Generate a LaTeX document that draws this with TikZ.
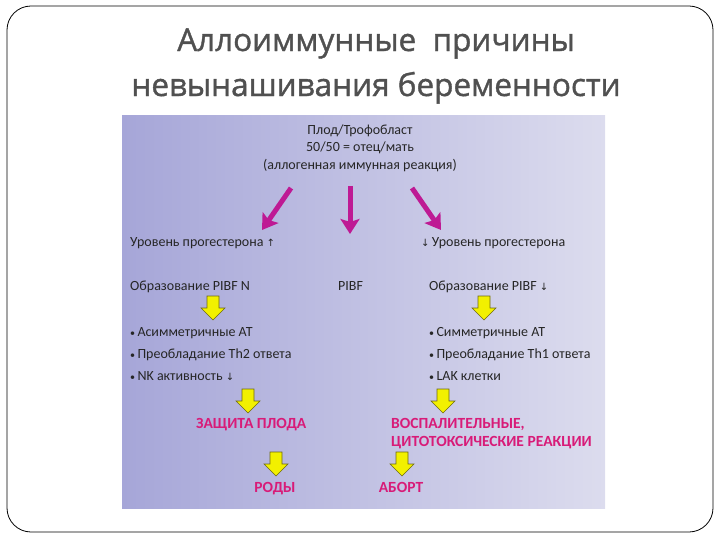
\documentclass[tikz,border=0pt]{standalone}
\usepackage{fontspec}
\setmainfont{Carlito}
\newfontfamily\symf{DejaVu Sans}
\newfontfamily\titlef[FakeBold=1.2]{Open Sans}
\usetikzlibrary{arrows.meta}
\definecolor{titlegray}{HTML}{505050}
\definecolor{mag}{HTML}{BE1A94}
\definecolor{redtxt}{HTML}{D81B78}
\definecolor{panelL}{HTML}{A6A6D8}
\definecolor{panelR}{HTML}{DCDCEE}
\definecolor{yel}{HTML}{F2F000}
\definecolor{yelD}{HTML}{6E6A10}
\newcommand{\upar}{{\symf\fontsize{10}{10}\selectfont ↑}}
\newcommand{\dnar}{{\symf\fontsize{10}{10}\selectfont ↓}}
\newcommand{\bul}{{\fontsize{10}{10}\selectfont •}}
\tikzset{
  txt/.style={font=\fontsize{14}{17.5}\selectfont, text=black!85, inner sep=0pt, text height=9.5pt, text depth=3pt},
  red/.style={font=\fontsize{15.5}{18}\selectfont\bfseries, text=redtxt, inner sep=0pt, text height=10pt, text depth=3pt},
  magarrow/.style={draw=mag, line width=5pt, -{Stealth[width=19pt,length=15pt,inset=3pt]}},
  yarrow/.pic={\path[fill=yel, draw=yelD, line width=0.6pt]
     (-6,-12) -- (6,-12) -- (6,0) -- (12,0) -- (0,12) -- (-12,0) -- (-6,0) -- cycle;}
}
\begin{document}
\begin{tikzpicture}[x=1pt,y=-1pt]
\useasboundingbox (0,0) rectangle (720,540);
\draw[black, line width=0.8pt, rounded corners=24pt] (7,6) rectangle (713,532);
\node[font=\titlef\fontsize{31.5}{45}\selectfont, text=titlegray, align=center] (title) at (376,66)
  {Аллоиммунные \ причины\\невынашивания беременности};
\shade[left color=panelL, right color=panelR] (122,116) rectangle (605,508);
% top text
\node[txt, align=center, text height=, text depth=] (top) at (360,148) {Плод/Трофобласт\\50/50 = отец/мать\\(аллогенная иммунная реакция)};
% magenta arrows
\coordinate (a1s) at (291,188); \coordinate (a1e) at (262,230);
\coordinate (a2s) at (350,186); \coordinate (a2e) at (350,234);
\coordinate (a3s) at (412,188); \coordinate (a3e) at (441,230);
\draw[magarrow] (a1s) -- (a1e);
\draw[magarrow] (a2s) -- (a2e);
\draw[magarrow] (a3s) -- (a3e);
% row texts
\node[txt, anchor=west] (lp) at (130,243) {Уровень прогестерона \upar};
\node[txt, anchor=west] (rp) at (421,243) {\dnar\,Уровень прогестерона};
\node[txt, anchor=west] (lpibf) at (130,287) {Образование PIBF N};
\node[txt, anchor=west] (mpibf) at (338,287) {PIBF};
\node[txt, anchor=west] (rpibf) at (429,287) {Образование PIBF \dnar};
\pic at (213,308) {yarrow};
\pic at (484,308) {yarrow};
\node[txt, anchor=west] (l1) at (130,333) {\bul\,Асимметричные АТ};
\node[txt, anchor=west] (l2) at (130,355) {\bul\,Преобладание Th2 ответа};
\node[txt, anchor=west] (l3) at (130,377) {\bul\,NK активность \dnar};
\node[txt, anchor=west] (r1) at (429,333) {\bul\,Симметричные АТ};
\node[txt, anchor=west] (r2) at (429,355) {\bul\,Преобладание Th1 ответа};
\node[txt, anchor=west] (r3) at (429,377) {\bul\,LAK клетки};
\pic at (248,401) {yarrow};
\pic at (443,401) {yarrow};
\node[red, anchor=west] (zp) at (196,425) {ЗАЩИТА ПЛОДА};
\node[red, anchor=west] (vr1) at (391,425) {ВОСПАЛИТЕЛЬНЫЕ,};
\node[red, anchor=west] (vr2) at (391,443) {ЦИТОТОКСИЧЕСКИЕ РЕАКЦИИ};
\pic at (276,464) {yarrow};
\pic at (402,464) {yarrow};
\node[red] (rody) at (275,489) {РОДЫ};
\node[red] (abort) at (401,489) {АБОРТ};
\end{tikzpicture}
\end{document}
